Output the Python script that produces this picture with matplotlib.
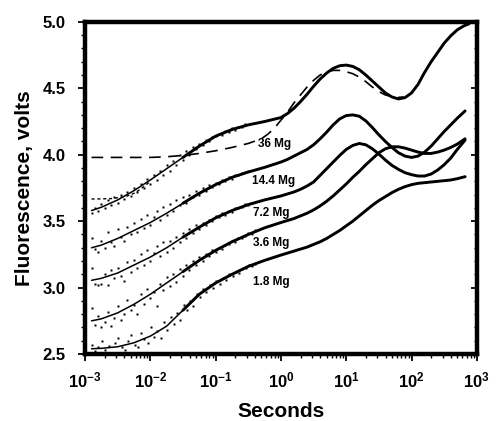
import numpy as np
import matplotlib
matplotlib.use('Agg')
import matplotlib.pyplot as plt
from matplotlib.ticker import FixedLocator, NullFormatter, FixedFormatter

plt.rcParams['font.family'] = ['Liberation Sans', 'DejaVu Sans']
plt.rcParams['font.weight'] = 'bold'
plt.rcParams['mathtext.fontset'] = 'custom'
plt.rcParams['mathtext.rm'] = 'Liberation Sans:bold'
plt.rcParams['mathtext.it'] = 'Liberation Sans:bold'
plt.rcParams['mathtext.bf'] = 'Liberation Sans:bold'

# ---------------- data (x as log10 seconds, y in volts) ----------------
lx_36 = [-2.9, -2.75, -2.5, -2.25, -2.0, -1.75, -1.5, -1.25, -1.0, -0.75, -0.5, -0.25, 0.0,
         0.1, 0.2, 0.3, 0.4, 0.5, 0.6, 0.7, 0.8, 0.9, 1.0, 1.1, 1.2, 1.3, 1.4, 1.5, 1.6, 1.7,
         1.8, 1.9, 2.0, 2.1, 2.2, 2.3, 2.4, 2.5, 2.6, 2.7, 2.8, 2.88]
y_36 = [3.58, 3.605, 3.66, 3.73, 3.81, 3.895, 3.98, 4.065, 4.14, 4.19, 4.225, 4.25, 4.28,
        4.31, 4.35, 4.40, 4.455, 4.515, 4.57, 4.615, 4.65, 4.67, 4.675, 4.665, 4.64, 4.60,
        4.555, 4.51, 4.465, 4.435, 4.42, 4.43, 4.465, 4.53, 4.62, 4.70, 4.77, 4.84, 4.895,
        4.94, 4.97, 4.985]

lx_36_dot = [-2.9, -2.75, -2.6, -2.45, -2.35, -2.25, -2.15, -2.05, -2.0]
y_36_dot = [3.667, 3.668, 3.67, 3.68, 3.69, 3.71, 3.74, 3.78, 3.80]

lx_36_dash = [-2.9, -2.5, -2.0, -1.75, -1.5, -1.25, -1.0, -0.75, -0.5, -0.3, -0.2, -0.1, 0.0,
              0.1, 0.2, 0.3, 0.4, 0.5, 0.6, 0.7, 0.8, 0.9, 1.0, 1.1, 1.2, 1.3, 1.4, 1.5, 1.6,
              1.7, 1.8, 1.88]
y_36_dash = [3.98, 3.98, 3.98, 3.985, 3.995, 4.01, 4.03, 4.055, 4.085, 4.12, 4.155, 4.20, 4.26,
             4.32, 4.39, 4.45, 4.51, 4.56, 4.60, 4.625, 4.635, 4.635, 4.625, 4.61, 4.585, 4.55,
             4.51, 4.475, 4.45, 4.438, 4.432, 4.435]

lx_14 = [-2.9, -2.75, -2.5, -2.25, -2.0, -1.75, -1.5, -1.25, -1.0, -0.75, -0.5, -0.25, 0.0,
         0.1, 0.2, 0.3, 0.4, 0.5, 0.6, 0.7, 0.8, 0.9, 1.0, 1.1, 1.2, 1.3, 1.4, 1.5, 1.6, 1.7,
         1.8, 1.9, 2.0, 2.1, 2.2, 2.3, 2.4, 2.5, 2.6, 2.7, 2.82]
y_14 = [3.30, 3.32, 3.37, 3.43, 3.49, 3.56, 3.635, 3.71, 3.775, 3.83, 3.87, 3.905, 3.945,
        3.965, 3.99, 4.015, 4.04, 4.075, 4.12, 4.17, 4.225, 4.27, 4.295, 4.30, 4.29, 4.255,
        4.205, 4.15, 4.10, 4.055, 4.015, 3.99, 3.98, 3.99, 4.02, 4.065, 4.12, 4.175, 4.225,
        4.275, 4.33]

lx_7 = [-2.9, -2.75, -2.5, -2.25, -2.0, -1.75, -1.5, -1.25, -1.0, -0.75, -0.5, -0.25, 0.0,
        0.1, 0.2, 0.3, 0.4, 0.5, 0.6, 0.7, 0.8, 0.9, 1.0, 1.1, 1.2, 1.3, 1.4, 1.5, 1.6, 1.7,
        1.8, 1.9, 2.0, 2.1, 2.2, 2.3, 2.4, 2.5, 2.6, 2.7, 2.82]
y_7 = [3.055, 3.07, 3.11, 3.17, 3.23, 3.30, 3.38, 3.455, 3.525, 3.58, 3.625, 3.66, 3.69,
       3.705, 3.72, 3.74, 3.765, 3.795, 3.845, 3.895, 3.945, 3.995, 4.04, 4.07, 4.085, 4.075,
       4.045, 4.005, 3.96, 3.92, 3.89, 3.865, 3.85, 3.84, 3.84, 3.855, 3.885, 3.925, 3.975,
       4.04, 4.11]

lx_3 = [-2.9, -2.75, -2.5, -2.25, -2.0, -1.75, -1.5, -1.25, -1.0, -0.75, -0.5, -0.25, 0.0,
        0.1, 0.2, 0.3, 0.4, 0.5, 0.6, 0.7, 0.8, 0.9, 1.0, 1.1, 1.2, 1.3, 1.4, 1.5, 1.6, 1.7,
        1.8, 1.9, 2.0, 2.1, 2.2, 2.3, 2.4, 2.5, 2.6, 2.7, 2.82]
y_3 = [2.75, 2.765, 2.81, 2.875, 2.95, 3.035, 3.12, 3.205, 3.28, 3.345, 3.40, 3.45, 3.49,
       3.505, 3.52, 3.54, 3.56, 3.585, 3.615, 3.65, 3.69, 3.735, 3.78, 3.83, 3.875, 3.925,
       3.97, 4.015, 4.045, 4.06, 4.06, 4.05, 4.035, 4.02, 4.01, 4.01, 4.02, 4.035, 4.055,
       4.08, 4.12]

lx_1 = [-2.9, -2.75, -2.5, -2.25, -2.0, -1.75, -1.5, -1.25, -1.0, -0.75, -0.5, -0.25, 0.0,
        0.1, 0.2, 0.3, 0.4, 0.5, 0.6, 0.7, 0.8, 0.9, 1.0, 1.1, 1.2, 1.3, 1.4, 1.5, 1.6, 1.7,
        1.8, 1.9, 2.0, 2.1, 2.2, 2.3, 2.4, 2.5, 2.6, 2.7, 2.82]
y_1 = [2.54, 2.543, 2.555, 2.585, 2.635, 2.71, 2.83, 2.95, 3.035, 3.10, 3.16, 3.205, 3.245,
       3.26, 3.275, 3.29, 3.305, 3.325, 3.345, 3.37, 3.40, 3.43, 3.465, 3.50, 3.54, 3.58,
       3.62, 3.655, 3.685, 3.715, 3.74, 3.76, 3.775, 3.785, 3.79, 3.795, 3.80, 3.805, 3.81,
       3.82, 3.835]

# raw data points (early-time samples)
dots_36_x = [-2.90, -2.85, -2.80, -2.75, -2.70, -2.65, -2.60, -2.55, -2.50, -2.45, -2.40, -2.35,
             -2.30, -2.25, -2.20, -2.15, -2.10, -2.05, -2.00, -1.95, -1.90, -1.85, -1.80, -1.75,
             -1.70, -1.65, -1.60, -1.55, -1.50, -1.45, -1.40, -1.35, -1.30, -1.25, -1.20, -1.15,
             -1.10, -1.05, -1.00, -0.95, -0.90, -0.85, -0.80, -0.75, -0.70, -0.65, -0.60, -0.55]
dots_36_y = [3.56, 3.60, 3.58, 3.63, 3.60, 3.66, 3.62, 3.68, 3.64, 3.70, 3.67, 3.72,
             3.69, 3.75, 3.72, 3.78, 3.75, 3.82, 3.78, 3.85, 3.81, 3.88, 3.85, 3.92,
             3.88, 3.95, 3.92, 4.00, 3.96, 4.03, 4.00, 4.06, 4.04, 4.08, 4.07, 4.11,
             4.10, 4.13, 4.14, 4.16, 4.15, 4.18, 4.17, 4.20, 4.19, 4.21, 4.21, 4.23]
dots_14_x = [-2.90, -2.85, -2.80, -2.75, -2.70, -2.65, -2.60, -2.55, -2.50, -2.45, -2.40, -2.35,
             -2.30, -2.25, -2.20, -2.15, -2.10, -2.05, -2.00, -1.95, -1.90, -1.85, -1.80, -1.75,
             -1.70, -1.65, -1.60, -1.55, -1.50, -1.45, -1.40, -1.35, -1.30, -1.25, -1.20, -1.15,
             -1.10, -1.05, -1.00, -0.95, -0.90, -0.85, -0.80, -0.75, -0.70, -0.65, -0.60, -0.55,
             -0.50]
dots_14_y = [3.37, 3.29, 3.27, 3.35, 3.30, 3.42, 3.34, 3.31, 3.44, 3.38, 3.35, 3.46,
             3.40, 3.49, 3.42, 3.52, 3.45, 3.55, 3.47, 3.53, 3.58, 3.51, 3.61, 3.55,
             3.63, 3.58, 3.66, 3.62, 3.68, 3.64, 3.70, 3.68, 3.73, 3.70, 3.75, 3.73,
             3.77, 3.76, 3.79, 3.78, 3.81, 3.80, 3.83, 3.82, 3.85, 3.85, 3.86, 3.87,
             3.88]
dots_7_x = [-2.90, -2.85, -2.80, -2.75, -2.70, -2.65, -2.60, -2.55, -2.50, -2.45, -2.40, -2.35,
            -2.30, -2.25, -2.20, -2.15, -2.10, -2.05, -2.00, -1.95, -1.90, -1.85, -1.80, -1.75,
            -1.70, -1.65, -1.60, -1.55, -1.50, -1.45, -1.40, -1.35, -1.30, -1.25, -1.20, -1.15,
            -1.10, -1.05, -1.00, -0.95, -0.90, -0.85, -0.80, -0.75, -0.70, -0.65, -0.60, -0.55,
            -0.50, -0.45]
dots_7_y = [3.15, 3.03, 3.02, 3.03, 3.10, 3.02, 3.13, 3.07, 3.15, 3.09, 3.05, 3.19,
            3.12, 3.21, 3.15, 3.25, 3.17, 3.28, 3.20, 3.26, 3.31, 3.24, 3.34, 3.27,
            3.35, 3.30, 3.38, 3.34, 3.41, 3.37, 3.44, 3.41, 3.47, 3.44, 3.49, 3.47,
            3.51, 3.50, 3.54, 3.53, 3.56, 3.55, 3.58, 3.57, 3.60, 3.60, 3.61, 3.63,
            3.62, 3.64]
dots_3_x = [-2.90, -2.85, -2.80, -2.75, -2.70, -2.65, -2.60, -2.55, -2.50, -2.45, -2.40, -2.35,
            -2.30, -2.25, -2.20, -2.15, -2.10, -2.05, -2.00, -1.95, -1.90, -1.85, -1.80, -1.75,
            -1.70, -1.65, -1.60, -1.55, -1.50, -1.45, -1.40, -1.35, -1.30, -1.25, -1.20, -1.15,
            -1.10, -1.05, -1.00, -0.95, -0.90, -0.85, -0.80, -0.75, -0.70, -0.65, -0.60, -0.55,
            -0.50, -0.45, -0.40]
dots_3_y = [2.85, 2.72, 2.79, 2.70, 2.74, 2.82, 2.71, 2.77, 2.86, 2.76, 2.80, 2.91,
            2.83, 2.87, 2.80, 2.95, 2.88, 2.99, 2.92, 2.97, 2.86, 3.03, 2.98, 3.08,
            3.01, 3.10, 3.04, 3.14, 3.09, 3.17, 3.13, 3.20, 3.17, 3.23, 3.20, 3.25,
            3.24, 3.28, 3.27, 3.30, 3.29, 3.32, 3.33, 3.35, 3.34, 3.37, 3.37, 3.39,
            3.41, 3.40, 3.43]
dots_1_x = [-2.90, -2.85, -2.80, -2.74, -2.69, -2.64, -2.59, -2.54, -2.49, -2.44, -2.39, -2.34,
            -2.29, -2.24, -2.19, -2.14, -2.09, -2.04, -1.99, -1.94, -1.89, -1.84, -1.79, -1.74,
            -1.69, -1.64, -1.59, -1.54, -1.49, -1.44, -1.39, -1.34, -1.29, -1.24, -1.19, -1.14,
            -1.09, -1.04, -0.99, -0.94, -0.89, -0.84, -0.79, -0.74, -0.69, -0.64, -0.59, -0.54,
            -0.49, -0.44, -0.39]
dots_1_y = [2.57, 2.52, 2.55, 2.60, 2.53, 2.56, 2.51, 2.58, 2.62, 2.55, 2.53, 2.60,
            2.64, 2.57, 2.55, 2.66, 2.61, 2.58, 2.70, 2.63, 2.67, 2.62, 2.74, 2.68,
            2.78, 2.73, 2.81, 2.76, 2.87, 2.83, 2.90, 2.86, 2.95, 2.93, 2.99, 2.97,
            3.02, 3.00, 3.05, 3.03, 3.07, 3.06, 3.10, 3.09, 3.12, 3.11, 3.14, 3.15,
            3.17, 3.16, 3.18]

labels = ['36 Mg', '14.4 Mg', '7.2 Mg', '3.6 Mg', '1.8 Mg']
label_lx = [-0.35, -0.44, -0.43, -0.43, -0.43]
label_y = [4.08, 3.80, 3.56, 3.335, 3.04]

xtick_exp = [-3, -2, -1, 0, 1, 2, 3]
yticks = [2.5, 3.0, 3.5, 4.0, 4.5, 5.0]

# ---------------- figure ----------------
fig = plt.figure(figsize=(5.03, 4.21), dpi=100)
ax = fig.add_axes([0.169, 0.159, 0.779, 0.789])

curves = [(lx_36, y_36), (lx_14, y_14), (lx_7, y_7), (lx_3, y_3), (lx_1, y_1)]
dots = [(dots_36_x, dots_36_y), (dots_14_x, dots_14_y), (dots_7_x, dots_7_y),
        (dots_3_x, dots_3_y), (dots_1_x, dots_1_y)]

for (lx, yy), (dx, dy) in zip(curves, dots):
    lx = np.asarray(lx); yy = np.asarray(yy)
    ax.plot(10.0 ** np.asarray(dx), dy, linestyle='none', marker='s', ms=1.7,
            color='black', mec='none')
    ax.plot(10.0 ** lx, yy, color='black', lw=1.1, solid_capstyle='round',
            solid_joinstyle='round')
    m = lx >= -1.5
    ax.plot(10.0 ** lx[m], yy[m], color='black', lw=2.1, solid_capstyle='round',
            solid_joinstyle='round')

ax.plot(10.0 ** np.asarray(lx_36_dot), y_36_dot, color='black', lw=1.0,
        linestyle=(0, (2.2, 2.0)))
ax.plot(10.0 ** np.asarray(lx_36_dash), y_36_dash, color='black', lw=1.2,
        linestyle=(0, (7, 4.5)))

for t, lxx, yv in zip(labels, label_lx, label_y):
    ax.text(10.0 ** lxx, yv, t, fontsize=8.5, fontweight='bold', ha='left', va='center')

ax.set_xscale('log')
ax.set_xlim(1e-3, 1e3)
ax.set_ylim(2.5, 5.0)

ax.xaxis.set_major_locator(FixedLocator([10.0 ** e for e in xtick_exp]))
ax.xaxis.set_major_formatter(FixedFormatter(['$10^{%d}$' % e for e in xtick_exp]))
minor_x = [m * 10.0 ** e for e in xtick_exp[:-1] for m in range(2, 10)]
ax.xaxis.set_minor_locator(FixedLocator(minor_x))
ax.xaxis.set_minor_formatter(NullFormatter())

ax.set_yticks(yticks)
ax.set_yticklabels(['%.1f' % v for v in yticks])
ax.yaxis.set_minor_locator(FixedLocator(list(np.arange(25, 51) / 10.0)))

for s in ax.spines.values():
    s.set_linewidth(3.2)

ax.tick_params(axis='x', which='major', direction='out', length=5, width=1.3,
               labelsize=12, pad=7, top=False)
ax.tick_params(axis='x', which='minor', direction='out', length=3, width=1.0, top=False)
ax.tick_params(axis='y', which='major', direction='out', length=5, width=1.3,
               labelsize=12, pad=9, right=False)
ax.tick_params(axis='y', which='minor', direction='out', length=3, width=1.0, right=False)

# right-side inward ticks
ax2 = ax.twinx()
ax2.set_ylim(2.5, 5.0)
ax2.set_yticks(yticks)
ax2.yaxis.set_minor_locator(FixedLocator(list(np.arange(25, 51) / 10.0)))
ax2.tick_params(axis='y', which='major', direction='in', length=4, width=1.3, labelright=False)
ax2.tick_params(axis='y', which='minor', direction='in', length=2, width=0.8, labelright=False)
for s in ax2.spines.values():
    s.set_visible(False)

for lbl in ax.get_xticklabels() + ax.get_yticklabels():
    lbl.set_fontweight('bold')

ax.set_xlabel('Seconds', fontsize=15, fontweight='bold', labelpad=8)
ax.set_ylabel('Fluorescence, volts', fontsize=15, fontweight='bold', labelpad=6)

fig.savefig('out.png', dpi=100)
